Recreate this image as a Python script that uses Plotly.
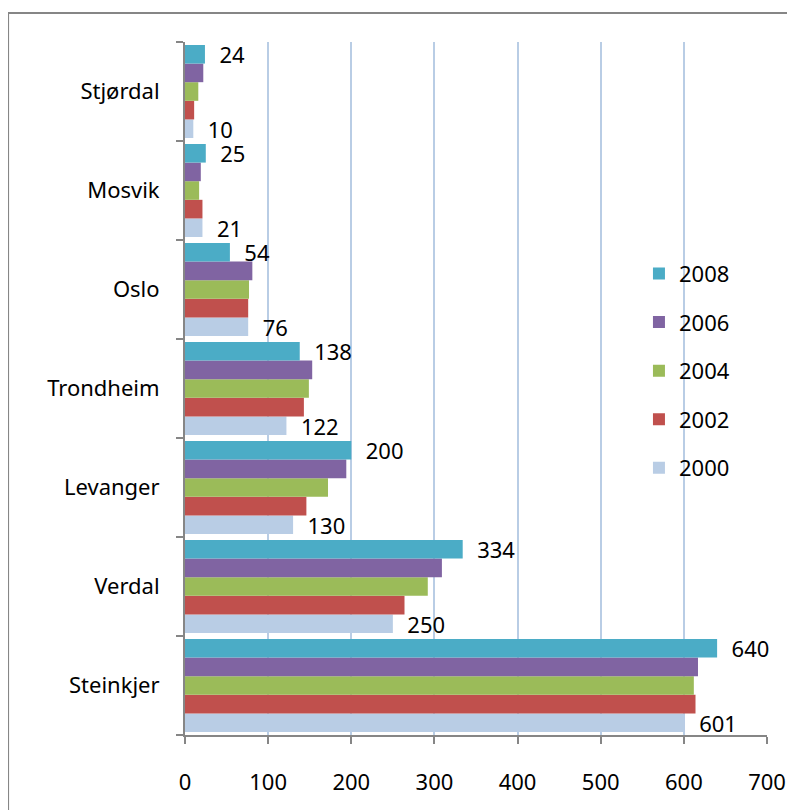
import plotly.graph_objects as go

categories = ["Steinkjer", "Verdal", "Levanger", "Trondheim", "Oslo", "Mosvik", "Stjørdal"]
years = ["2000", "2002", "2004", "2006", "2008"]
v2000 = [601, 250, 130, 122, 76, 21, 10]
v2002 = [614, 264, 146, 143, 76, 21, 11]
v2004 = [612, 292, 172, 149, 77, 17, 16]
v2006 = [617, 309, 194, 153, 81, 19, 22]
v2008 = [640, 334, 200, 138, 54, 25, 24]
values = [v2000, v2002, v2004, v2006, v2008]
colors = ["#B9CDE5", "#C0504D", "#9BBB59", "#8064A2", "#4BACC6"]
labelled = {"2000", "2008"}
x_ticks = [0, 100, 200, 300, 400, 500, 600, 700]

FONT = "Noto Sans"
FS = 22
fig = go.Figure()
for i, (yr, vals, col) in enumerate(zip(years, values, colors)):
    show = yr in labelled
    fig.add_trace(go.Bar(
        y=categories, x=vals, name=yr, orientation="h",
        marker=dict(color=col, line=dict(width=0)),
        text=[f"\u00a0\u00a0{v}" for v in vals] if show else None,
        textposition="outside" if show else "none",
        textfont=dict(size=FS, color="black", family=FONT),
        cliponaxis=False, constraintext="none",
        legendgroup=yr, legendrank=len(years) - i,
    ))

fig.update_layout(
    width=795, height=810,
    margin=dict(l=177, r=36, t=34, b=83),
    paper_bgcolor="white", plot_bgcolor="white",
    barmode="group", bargap=0.06, bargroupgap=0,
    font=dict(family=FONT, size=FS, color="black"),
    legend=dict(x=0.78, y=0.696, xanchor="left", yanchor="top",
                traceorder="grouped", tracegroupgap=17,
                font=dict(size=FS, family=FONT), bgcolor="rgba(0,0,0,0)"),
    xaxis=dict(range=[0, 700], tickvals=x_ticks, showgrid=True,
               gridcolor="#B9CDE5", gridwidth=2, zeroline=False,
               showline=True, linecolor="#868686", linewidth=2,
               ticks="outside", ticklen=7, tickcolor="#868686", tickwidth=2,
               ticklabelstandoff=20),
    yaxis=dict(categoryorder="array", categoryarray=categories,
               showline=True, linecolor="#868686", linewidth=2,
               ticks="outside", ticklen=7, tickcolor="#868686", tickwidth=2,
               tickson="boundaries", showgrid=False, ticklabelstandoff=19),
    shapes=[dict(type="rect", xref="paper", yref="paper",
                 x0=-0.304, x1=1.3, y0=-0.3, y1=1.0418,
                 line=dict(color="#868686", width=2), layer="below")],
)

fig.write_html("out.html")
